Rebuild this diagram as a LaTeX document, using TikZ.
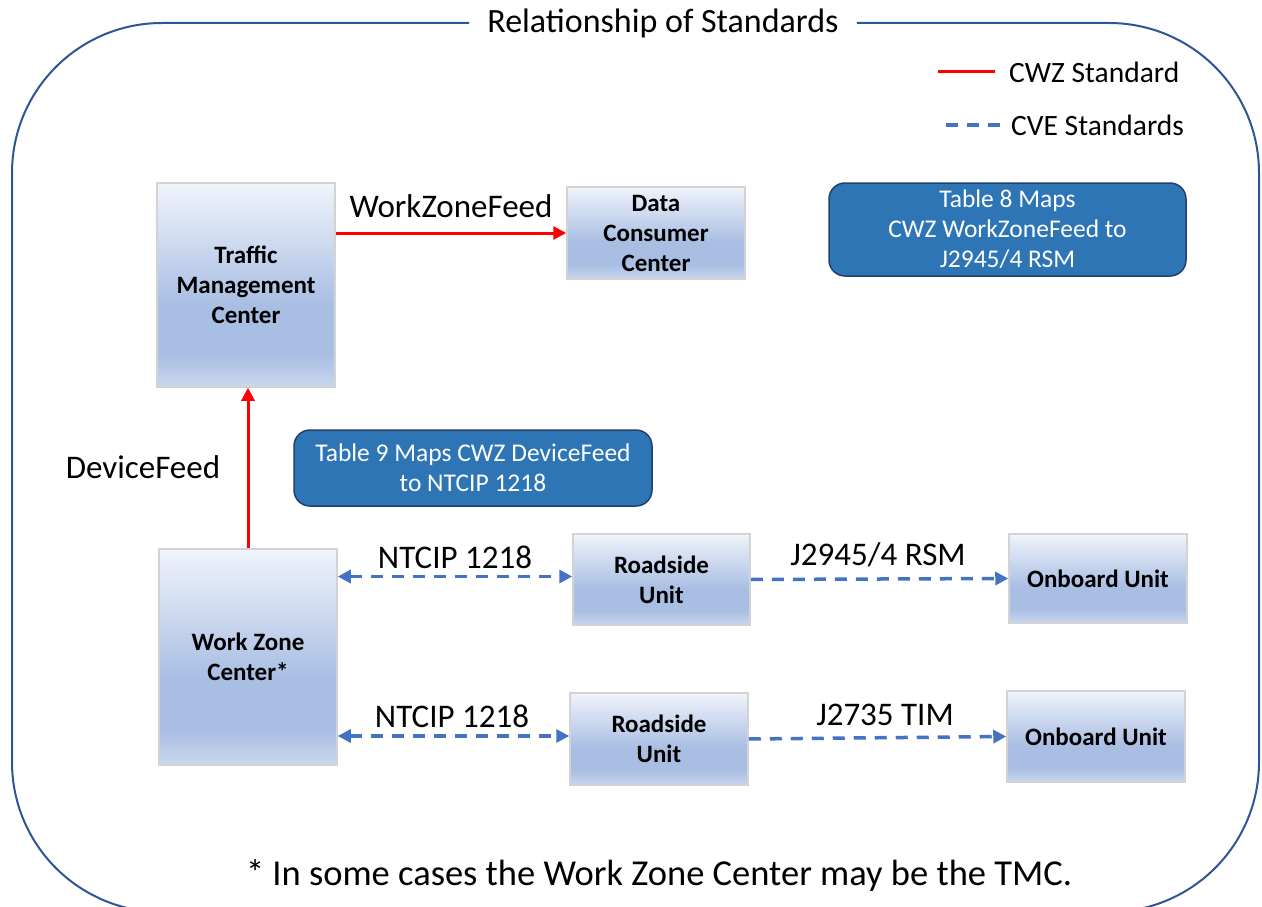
\documentclass[tikz,border=0pt]{standalone}
\usepackage{fontspec}
\setmainfont{Carlito}
\usetikzlibrary{arrows.meta}
\definecolor{outerblue}{HTML}{2F5597}
\definecolor{cveblue}{HTML}{4472C4}
\definecolor{tabfill}{HTML}{2E75B6}
\definecolor{tabline}{HTML}{22426E}
\definecolor{boxline}{HTML}{D3D3D3}
\definecolor{gtop}{HTML}{F0F4FB}
\definecolor{gmid}{HTML}{A9BEE3}
\definecolor{gbot}{HTML}{CAD7EE}
\pgfdeclareverticalshading{boxgrad}{100bp}{color(0bp)=(gbot); color(25bp)=(gbot); color(33bp)=(gmid); color(45bp)=(gmid); color(75bp)=(gtop); color(100bp)=(gtop)}
\tikzset{
  unitbox/.style={draw=boxline, line width=1.5pt, shading=boxgrad, align=center,
    font=\bfseries\fontsize{25}{30}\selectfont, text=black, inner sep=0pt},
  tablebox/.style={draw=tabline, line width=1.5pt, fill=tabfill, rounded corners=16pt,
    align=center, text=white, font=\fontsize{25.5}{30}\selectfont, inner sep=0pt},
  lbl/.style={font=\fontsize{33}{40}\selectfont, inner sep=0pt},
  legtxt/.style={font=\fontsize{29.5}{35}\selectfont, inner sep=0pt, anchor=west},
  cwz/.style={draw=red, line width=3pt},
  cwzarrow/.style={cwz, -{Triangle[length=13pt,width=13pt]}},
  cve/.style={draw=cveblue, line width=3.5pt, dash pattern=on 12pt off 9pt},
  cvearrow/.style={cve, -{Triangle[length=13pt,width=13pt]}},
  cvebi/.style={cve, {Triangle[length=13pt,width=13pt]}-{Triangle[length=13pt,width=13pt]}}
}
\begin{document}
\begin{tikzpicture}[x=1pt, y=-1pt]
\useasboundingbox (0,0) rectangle (1262,907);
% title and outer frame
\node[font=\fontsize{34}{40}\selectfont, inner xsep=18pt, inner ysep=0pt] (title) at (663,23) {Relationship of Standards};
\draw[outerblue, line width=2pt, rounded corners=150pt] (title.west) -- (12,23) -- (12,912) -- (1259,912) -- (1259,23) -- (title.east);
% legend
\coordinate (lr1) at (938,72); \coordinate (lr2) at (995,72);
\coordinate (lb1) at (946,125); \coordinate (lb2) at (1000,125);
\draw[cwz] (lr1) -- (lr2);
\draw[cve] (lb1) -- (lb2);
\node[legtxt] (legcwz) at (1009,72) {CWZ Standard};
\node[legtxt] (legcve) at (1011,125) {CVE Standards};
% boxes
\node[unitbox, minimum width=178pt, minimum height=204pt] (tmc) at (246,285) {Traffic\\Management\\Center};
\node[unitbox, minimum width=178pt, minimum height=92pt] (dcc) at (656,233) {Data\\Consumer\\Center};
\node[unitbox, minimum width=178pt, minimum height=216pt] (wzc) at (248,657) {Work Zone\\Center*};
\node[unitbox, minimum width=177pt, minimum height=91pt] (rsu1) at (661.5,579.5) {Roadside\\Unit};
\node[unitbox, minimum width=178pt, minimum height=92pt] (rsu2) at (659,739) {Roadside\\Unit};
\node[unitbox, minimum width=178pt, minimum height=89pt] (obu1) at (1098,578.5) {Onboard Unit};
\node[unitbox, minimum width=178pt, minimum height=91pt] (obu2) at (1096,736.5) {Onboard Unit};
\node[tablebox, minimum width=357pt, minimum height=93pt] (t8) at (1007.5,229.5) {Table 8 Maps\\CWZ WorkZoneFeed to\\J2945/4 RSM};
\node[tablebox, minimum width=358pt, minimum height=76pt] (t9) at (473,468) {Table 9 Maps CWZ DeviceFeed\\to NTCIP 1218};
% connectors
\draw[cwzarrow] (tmc.east |- dcc.west) -- (dcc.west);
\draw[cwzarrow] (wzc.north) -- (wzc.north |- tmc.south);
\draw[cvebi] ([yshift=3pt]wzc.east |- rsu1.west) -- ([yshift=3pt]rsu1.west);
\draw[cvebi] ([yshift=3pt]wzc.east |- rsu2.west) -- ([yshift=3pt]rsu2.west);
\draw[cvearrow] (rsu1.east) -- (obu1.west);
\draw[cvearrow] (rsu2.east) -- (obu2.west);
% connector labels
\node[lbl] (lwzf) at (451,206) {WorkZoneFeed};
\node[lbl] (ldf) at (143,467) {DeviceFeed};
\node[lbl] (ln1) at (455,557) {NTCIP 1218};
\node[lbl] (ln2) at (452,716) {NTCIP 1218};
\node[lbl] (lrsm) at (878,555) {J2945/4 RSM};
\node[lbl] (ltim) at (885,715) {J2735 TIM};
% footnote
\node[lbl, font=\fontsize{36.5}{42}\selectfont] (foot) at (659,875) {* In some cases the Work Zone Center may be the TMC.};
\end{tikzpicture}
\end{document}
